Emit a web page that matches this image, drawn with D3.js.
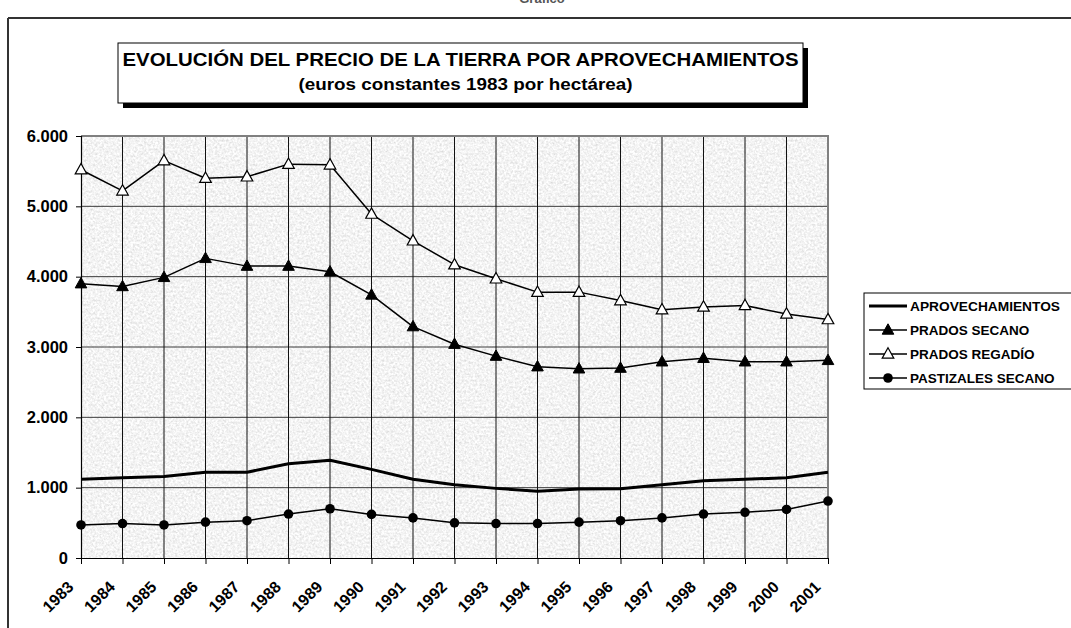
<!DOCTYPE html>
<html>
<head>
<meta charset="utf-8">
<script src="https://cdn.jsdelivr.net/npm/d3@7"></script>
<style>
  html, body { margin: 0; padding: 0; background: #fff; }
  svg { display: block; font-family: Arial, "Liberation Sans", sans-serif; }
</style>
</head>
<body>
<svg id="chart" width="1071" height="628"></svg>
<script>
// ---- data ----
const years = ["1983","1984","1985","1986","1987","1988","1989","1990","1991","1992",
               "1993","1994","1995","1996","1997","1998","1999","2000","2001"];
const aprovechamientos = [1120,1140,1160,1220,1220,1340,1390,1260,1120,1040,990,950,980,985,1040,1100,1120,1140,1220];
const pradosSecano    = [3900,3860,3990,4260,4150,4150,4070,3740,3290,3040,2870,2720,2690,2700,2790,2840,2790,2790,2810];
const pradosRegadio   = [5520,5220,5650,5400,5420,5600,5590,4890,4510,4170,3970,3780,3780,3660,3530,3570,3590,3470,3390];
const pastizalesSecano= [470,490,470,510,530,625,700,620,570,500,490,490,510,530,570,625,650,690,810];
const yTicks = [0,1000,2000,3000,4000,5000,6000];
const seriesNames = ["APROVECHAMIENTOS","PRADOS SECANO","PRADOS REGADÍO","PASTIZALES SECANO"];
const titleLine1 = "EVOLUCIÓN DEL PRECIO DE LA TIERRA POR APROVECHAMIENTOS";
const titleLine2 = "(euros constantes 1983 por hectárea)";

const series = [
  {name: seriesNames[0], values: aprovechamientos, marker: "none",     width: 3},
  {name: seriesNames[1], values: pradosSecano,     marker: "triFill",  width: 1.5},
  {name: seriesNames[2], values: pradosRegadio,    marker: "triOpen",  width: 1.5},
  {name: seriesNames[3], values: pastizalesSecano, marker: "circle",   width: 1.5}
];

const svg = d3.select("#chart");
const esLocale = d3.formatLocale({decimal: ",", thousands: ".", grouping: [3], currency: ["", "€"]});
const fmt = esLocale.format(",.0f");

const plot = {left: 81, right: 828, top: 136, bottom: 558};
const x = d3.scalePoint().domain(years).range([plot.left, plot.right]);
const y = d3.scaleLinear().domain([0, 6000]).range([plot.bottom, plot.top]);

// ---- defs: granite texture ----
const defs = svg.append("defs");
const filt = defs.append("filter").attr("id", "granite")
  .attr("x", 0).attr("y", 0).attr("width", 1).attr("height", 1);
filt.append("feTurbulence").attr("type", "fractalNoise").attr("baseFrequency", 0.45)
  .attr("numOctaves", 3).attr("seed", 7).attr("result", "noise");
filt.append("feColorMatrix").attr("in", "noise").attr("type", "matrix")
  .attr("values", "0.5 0 0 0 0.65  0.5 0 0 0 0.65  0.5 0 0 0 0.65  0 0 0 0 1");

// ---- outer chart frame ----
svg.append("line").attr("x1", 8).attr("x2", 1071).attr("y1", 18).attr("y2", 18)
  .attr("stroke", "#333").attr("stroke-width", 2);
svg.append("line").attr("x1", 8).attr("x2", 8).attr("y1", 18).attr("y2", 628)
  .attr("stroke", "#333").attr("stroke-width", 2);

// heading above the frame (cut off by the window top in the reference)
svg.append("text").attr("x", 542).attr("y", 3).attr("text-anchor", "middle")
  .attr("font-size", 13).attr("font-weight", "bold").attr("fill", "#555").text("Gráfico");

// ---- plot area ----
svg.append("rect").attr("x", plot.left).attr("y", plot.top)
  .attr("width", plot.right - plot.left).attr("height", plot.bottom - plot.top)
  .attr("fill", "#e6e6e6").attr("filter", "url(#granite)");

// horizontal gridlines
svg.append("g").selectAll("line").data(yTicks.filter(d => d > 0 && d < 6000)).join("line")
  .attr("x1", plot.left).attr("x2", plot.right)
  .attr("y1", d => y(d)).attr("y2", d => y(d))
  .attr("stroke", "#3a3a3a").attr("stroke-width", 1);

// vertical gridlines
svg.append("g").selectAll("line").data(years.slice(1, -1)).join("line")
  .attr("x1", d => x(d)).attr("x2", d => x(d))
  .attr("y1", plot.top).attr("y2", plot.bottom)
  .attr("stroke", "#111").attr("stroke-width", 1);

// top & right border (gray)
svg.append("path")
  .attr("d", `M${plot.left},${plot.top}H${plot.right}V${plot.bottom}`)
  .attr("fill", "none").attr("stroke", "#808080").attr("stroke-width", 2);

// axes
const yAxis = d3.axisLeft(y).tickValues(yTicks).tickSize(5).tickPadding(8).tickFormat(fmt);
const gy = svg.append("g").attr("transform", `translate(${plot.left},0)`).call(yAxis);
gy.select(".domain").attr("stroke", "#000").attr("stroke-width", 1.2);
gy.selectAll(".tick line").attr("stroke", "#000");
gy.selectAll(".tick text").attr("font-size", 16.5).attr("font-weight", "bold")
  .attr("font-family", "Arial, 'Liberation Sans', sans-serif").attr("fill", "#000")
  .attr("x", -13);

const xAxis = d3.axisBottom(x).tickSize(6).tickSizeOuter(0);
const gx = svg.append("g").attr("transform", `translate(0,${plot.bottom})`).call(xAxis);
gx.select(".domain").attr("stroke", "#000").attr("stroke-width", 1.2);
gx.selectAll(".tick line").attr("stroke", "#000");
gx.selectAll(".tick text").attr("font-size", 16).attr("font-weight", "bold")
  .attr("font-family", "Arial, 'Liberation Sans', sans-serif").attr("fill", "#000")
  .attr("text-anchor", "end").attr("x", 0).attr("y", 0).attr("dy", 0)
  .attr("transform", "translate(-7,30) rotate(-45)");

// ---- series ----
const line = d3.line().x((d, i) => x(years[i])).y(d => y(d));
const triPath = (s) => `M0,${-s*0.62}L${s*0.58},${s*0.42}L${-s*0.58},${s*0.42}Z`;

function drawMarker(g, type, cx, cy) {
  if (type === "triFill") {
    g.append("path").attr("d", triPath(10)).attr("transform", `translate(${cx},${cy})`)
      .attr("fill", "#000").attr("stroke", "#000").attr("stroke-width", 1);
  } else if (type === "triOpen") {
    g.append("path").attr("d", triPath(10)).attr("transform", `translate(${cx},${cy})`)
      .attr("fill", "#fff").attr("stroke", "#000").attr("stroke-width", 1.2);
  } else if (type === "circle") {
    g.append("circle").attr("cx", cx).attr("cy", cy).attr("r", 4.8).attr("fill", "#000");
  }
}

const gs = svg.append("g");
series.forEach(s => {
  gs.append("path").datum(s.values).attr("d", line)
    .attr("fill", "none").attr("stroke", "#000").attr("stroke-width", s.width)
    .attr("stroke-linejoin", "round");
  const gm = gs.append("g");
  s.values.forEach((v, i) => drawMarker(gm, s.marker, x(years[i]), y(v)));
});

// ---- title box ----
const tb = {x: 118, y: 43, w: 685, h: 60};
svg.append("rect").attr("x", tb.x + 5).attr("y", tb.y + 5).attr("width", tb.w).attr("height", tb.h)
  .attr("fill", "#000");
svg.append("rect").attr("x", tb.x).attr("y", tb.y).attr("width", tb.w).attr("height", tb.h)
  .attr("fill", "#fff").attr("stroke", "#000").attr("stroke-width", 1);
svg.append("text").attr("x", tb.x + tb.w / 2).attr("y", 66).attr("text-anchor", "middle")
  .attr("font-size", 17.5).attr("font-weight", "bold").attr("textLength", 676)
  .attr("lengthAdjust", "spacingAndGlyphs").text(titleLine1);
svg.append("text").attr("x", tb.x + tb.w / 2 + 5).attr("y", 90).attr("text-anchor", "middle")
  .attr("font-size", 16.5).attr("font-weight", "bold").attr("textLength", 334)
  .attr("lengthAdjust", "spacingAndGlyphs").text(titleLine2);

// ---- legend ----
const lg = svg.append("g");
lg.append("rect").attr("x", 864).attr("y", 293).attr("width", 212).attr("height", 96)
  .attr("fill", "#fff").attr("stroke", "#000").attr("stroke-width", 1);
series.forEach((s, i) => {
  const ly = 306 + i * 24;
  lg.append("line").attr("x1", 869).attr("x2", 907).attr("y1", ly).attr("y2", ly)
    .attr("stroke", "#000").attr("stroke-width", s.width);
  drawMarker(lg, s.marker, 888, ly);
  lg.append("text").attr("x", 910).attr("y", ly + 5).attr("font-size", 13.5)
    .attr("font-weight", "bold").attr("textLength", 150).attr("lengthAdjust", "spacingAndGlyphs")
    .attr("textLength", i === 0 ? 150 : null)
    .text(s.name);
});
</script>
</body>
</html>
